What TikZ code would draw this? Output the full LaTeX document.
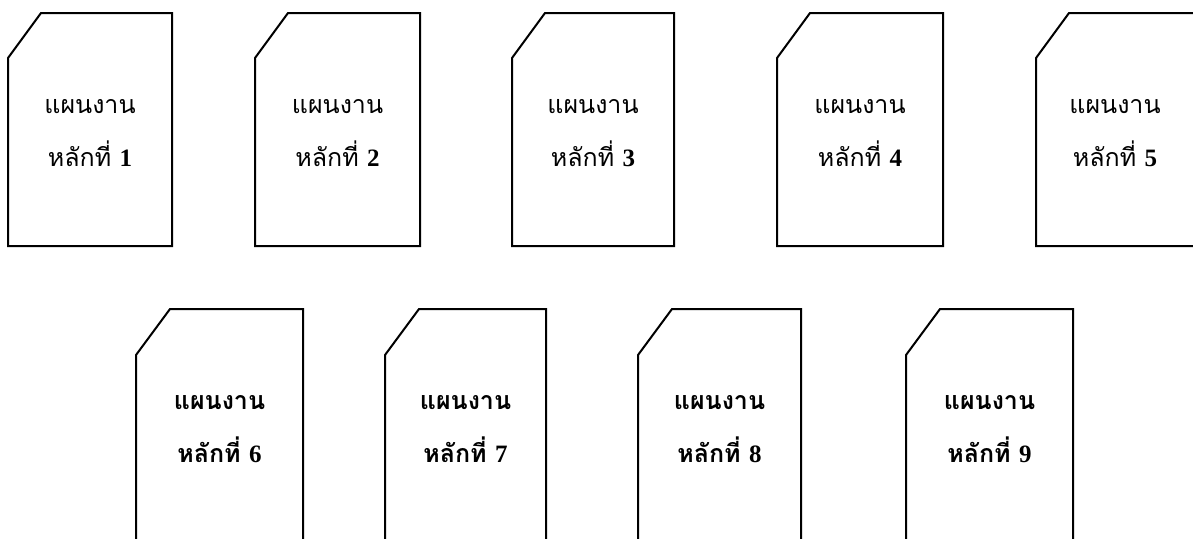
\documentclass[tikz,border=0pt]{standalone}
\usepackage{fontspec}
\newfontfamily\thaifont[Script=Thai]{Loma}
\newfontfamily\numfont{Liberation Serif}
\tikzset{
  card/.style={draw=black, line width=2pt, line join=miter},
  cardtext/.style={align=center, inner sep=0pt, font=\thaifont\fontsize{25}{53}\selectfont},
  cardtextb/.style={cardtext, font=\thaifont\bfseries\fontsize{25}{53}\selectfont}
}
\begin{document}
\begin{tikzpicture}[x=1pt,y=-1pt]
\useasboundingbox (0,0) rectangle (1193,538);
\clip (0,0) rectangle (1193,538);
% row 1: left, right
\foreach \n/\l/\r in {1/8/172, 2/255/420, 3/512/674, 4/777/943, 5/1036/1194}{
  \draw[card] (\l,58) -- (\l+33,13) -- (\r,13) -- (\r,246) -- (\l,246) -- cycle;
  \node[cardtext] (t\n) at ({(\l+\r)/2},133) {แผนงาน\\หลักที่ {\numfont\bfseries\n}};
}
% row 2
\foreach \n/\l/\r in {6/136/303, 7/385/546, 8/638/801, 9/906/1073}{
  \draw[card] (\l,355) -- (\l+34,309) -- (\r,309) -- (\r,560) -- (\l,560) -- cycle;
  \node[cardtextb] (t\n) at ({(\l+\r)/2},429) {แผนงาน\\หลักที่ {\numfont\bfseries\n}};
}
\end{tikzpicture}
\end{document}
